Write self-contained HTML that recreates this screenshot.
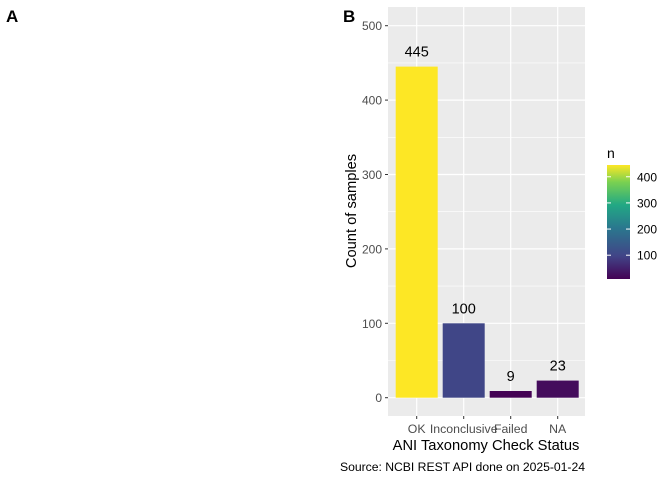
<!DOCTYPE html>
<html><head><meta charset="utf-8"><style>
body{margin:0;background:#fff}
text{font-family:"Liberation Sans",Arial,sans-serif}
</style></head><body>
<svg id="c" width="672" height="480" xmlns="http://www.w3.org/2000/svg">
<defs><linearGradient id="vg" x1="0" y1="1" x2="0" y2="0">
<stop offset="0" stop-color="#440154"/><stop offset="0.2" stop-color="#414487"/><stop offset="0.45" stop-color="#2A788E"/><stop offset="0.65" stop-color="#22A884"/><stop offset="0.85" stop-color="#7AD151"/><stop offset="1" stop-color="#FDE725"/></linearGradient></defs>
<text x="6" y="22" font-size="17" font-weight="bold">A</text>
<text x="343" y="22" font-size="17" font-weight="bold">B</text>
<rect x="388" y="7" width="197" height="409" fill="#EBEBEB"/>
<g id="grid"></g><g id="bars"></g><g id="axes"></g>
<text x="486" y="450" font-size="14.7" text-anchor="middle">ANI Taxonomy Check Status</text>
<text transform="translate(356,211) rotate(-90)" font-size="14.7" text-anchor="middle">Count of samples</text>
<text x="340" y="471" font-size="12.2" textLength="245">Source: NCBI REST API done on 2025-01-24</text>
<text x="607" y="158" font-size="14">n</text>
<rect x="607" y="165" width="23" height="114" fill="url(#vg)"/>
<g id="leg"></g>
</svg>
<script>
const categories=["OK","Inconclusive","Failed","NA"];
const counts=[445,100,9,23];
const yTicks=[0,100,200,300,400,500];
const legendTicks=[100,200,300,400];
const ns="http://www.w3.org/2000/svg";
const y0=397.7,pp=0.744;
const y=v=>y0-v*pp;
const x=i=>416.7+i*47;
const mn=Math.min(...counts),mx=Math.max(...counts);
function mk(t,a,p){const e=document.createElementNS(ns,t);for(const k in a)e.setAttribute(k,a[k]);document.getElementById(p).appendChild(e);return e;}
const stops=[[0,[68,1,84]],[0.2,[65,68,135]],[0.45,[42,120,142]],[0.65,[34,168,132]],[0.85,[122,209,81]],[1,[253,231,37]]];
function vir(t){for(let i=1;i<stops.length;i++){if(t<=stops[i][0]){const a=stops[i-1],b=stops[i],f=(t-a[0])/(b[0]-a[0]);return "rgb("+a[1].map((c,j)=>Math.round(c+(b[1][j]-c)*f)).join(",")+")";}}return "rgb(253,231,37)";}
yTicks.forEach((v,i)=>{
 if(i<yTicks.length-1){const m=mk("line",{x1:388,x2:585,y1:y(v+50),y2:y(v+50),stroke:"#fff","stroke-width":0.6},"grid");}
 const g=mk("line",{x1:388,x2:585,y1:y(v),y2:y(v),stroke:"#fff","stroke-width":1.2},"grid");
 
 const tk=mk("line",{x1:385,x2:388,y1:y(v),y2:y(v),stroke:"#333"},"axes");
 
 const t=mk("text",{x:382,y:y(v)+4.5,"font-size":12,"text-anchor":"end",fill:"#4D4D4D"},"axes");t.textContent=v;
 
});
categories.forEach((c,i)=>{
 const g=mk("line",{x1:x(i),x2:x(i),y1:7,y2:416,stroke:"#fff","stroke-width":1.2},"grid");
 
 const b=mk("rect",{x:x(i)-21,y:y(counts[i]),width:42,height:counts[i]*pp,fill:vir((counts[i]-mn)/(mx-mn))},"bars");
 
 const l=mk("text",{x:x(i),y:y(counts[i])-10,"font-size":14.5,"text-anchor":"middle"},"bars");l.textContent=counts[i];
 
 const tk=mk("line",{x1:x(i),x2:x(i),y1:416,y2:419,stroke:"#333"},"axes");
 
 const t=mk("text",{x:x(i),y:433,"font-size":12.3,"text-anchor":"middle",fill:"#4D4D4D"},"axes");t.textContent=c;
 
});
legendTicks.forEach(v=>{
 const ly=279-(v-mn)/(mx-mn)*114;
 const a=mk("line",{x1:607,x2:611,y1:ly,y2:ly,stroke:"#fff"},"leg");
 const b=mk("line",{x1:626,x2:630,y1:ly,y2:ly,stroke:"#fff"},"leg");
 const t=mk("text",{x:637,y:ly+4.5,"font-size":12,fill:"#000"},"leg");t.textContent=v;
 
});
</script>
</body></html>
